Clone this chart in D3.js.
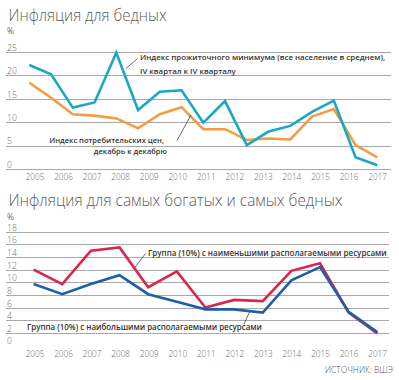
<!DOCTYPE html>
<html><head><meta charset="utf-8">
<script src="https://cdn.jsdelivr.net/npm/d3@7/dist/d3.min.js"></script>
<style>
html,body{margin:0;padding:0;background:#fff;}
svg{display:block;font-family:"Open Sans","Noto Sans",sans-serif;}
</style></head>
<body>
<script>
// ---- data ----
const years = ["2005","2006","2007","2008","2009","2010","2011","2012","2013","2014","2015","2016","2017"];
const topTicks = [0,5,10,15,20,25];
const bottomTicks = [0,2,4,6,8,10,12,14,16,18];
// top chart: 17 observations spread across 2005-2017
const subsistence = [22.3,20.3,13.2,14.3,24.9,12.7,16.6,16.9,10.0,14.6,5.2,8.1,9.3,12.3,14.7,2.6,0.9];
const cpi = [18.5,15.3,11.8,11.5,10.9,8.8,11.8,13.3,8.6,8.6,6.3,6.6,6.4,11.3,12.9,5.2,2.6];
// bottom chart: yearly
const poorest = [12.1,9.8,15.1,15.6,9.3,11.8,6.1,7.3,7.1,11.9,13.1,5.3,2.0];
const richest = [9.8,8.2,9.8,11.2,8.2,7.0,5.8,5.8,5.3,10.4,12.5,5.4,2.2];

const titleTop = "Инфляция для бедных";
const titleBottom = "Инфляция для самых богатых и самых бедных";
const noteSubs = ["Индекс прожиточного минимума (все население в среднем),","IV квартал к IV кварталу"];
const noteCpi = ["Индекс потребительских цен,","декабрь к декабрю"];
const notePoor = "Группа  (10%) с наименьшими располагаемыми ресурсами";
const noteRich = "Группа (10%) с наибольшими располагаемыми ресурсами";
const source = "ИСТОЧНИК: ВШЭ";

const C = {cyan:"#1ba7c6", orange:"#f39c45", red:"#d9274b", blue:"#1f5ea8", grid:"#a8a8a8", tick:"#6a6a6a", title:"#5a5a5a", note:"#333"};

const W = 399, H = 380;
const svg = d3.select("body").append("svg").attr("width",W).attr("height",H);

function fit(sel, width){
  const w = sel.node().getComputedTextLength();
  const fs = parseFloat(sel.attr("font-size"));
  if (w>0) sel.attr("font-size", (fs*width/w).toFixed(2));
  return sel;
}
function squeeze(sel, width){
  sel.attr("textLength", width).attr("lengthAdjust","spacingAndGlyphs");
  return sel;
}

const gridX0 = 6, gridX1 = 391;
const xYears = d3.scalePoint().domain(years).range([35,377.6]);

// ---------- TOP CHART ----------
const yTop = d3.scaleLinear().domain([0,25]).range([169.5,52.3]);
const xTop = d3.scaleLinear().domain([0, subsistence.length-1]).range([29.3,377.3]);

squeeze(svg.append("text").attr("x",8.5).attr("y",21.3).attr("font-size",16.2).attr("font-weight",300)
  .attr("fill",C.title).text(titleTop), 158);
svg.append("text").attr("x",7).attr("y",34.3).attr("font-size",8.3).attr("fill",C.tick).text("%");

const gTop = svg.append("g");
gTop.selectAll("line.grid").data(topTicks).join("line")
  .attr("x1",gridX0).attr("x2",gridX1)
  .attr("y1",d=>yTop(d)).attr("y2",d=>yTop(d))
  .attr("stroke",C.grid).attr("stroke-width",1).attr("shape-rendering","crispEdges");
gTop.selectAll("text.yl").data(topTicks).join("text")
  .attr("x",7).attr("y",d=>yTop(d)-1.6).attr("font-size",8.6).attr("font-weight",300)
  .attr("fill",C.tick).text(d=>d);
gTop.selectAll("text.xl").data(years).join("text")
  .attr("x",d=>xYears(d)).attr("y",179.5).attr("text-anchor","middle")
  .attr("font-size",8.2).attr("font-weight",300).attr("fill",C.tick).text(d=>d);

const lineTop = d3.line().x((d,i)=>xTop(i)).y(d=>yTop(d));
gTop.append("path").datum(cpi).attr("d",lineTop).attr("fill","none")
  .attr("stroke",C.orange).attr("stroke-width",2.6).attr("stroke-linejoin","miter");
gTop.append("path").datum(subsistence).attr("d",lineTop).attr("fill","none")
  .attr("stroke",C.cyan).attr("stroke-width",2.6).attr("stroke-linejoin","miter");

// annotations top
gTop.append("line").attr("x1",126).attr("y1",68.5).attr("x2",137.5).attr("y2",58.5)
  .attr("stroke","#444").attr("stroke-width",0.8);
const ns1 = gTop.append("text").attr("x",140).attr("y",60).attr("font-size",9).attr("font-weight",600)
  .attr("fill",C.note).text(noteSubs[0]);
fit(ns1, 245.5);
gTop.append("text").attr("x",140).attr("y",74).attr("font-size",ns1.attr("font-size")).attr("font-weight",600)
  .attr("fill",C.note).text(noteSubs[1]);

gTop.append("line").attr("x1",177).attr("y1",140.5).attr("x2",191).attr("y2",115)
  .attr("stroke","#444").attr("stroke-width",0.8);
const nc1 = gTop.append("text").attr("x",164).attr("y",142.5).attr("text-anchor","end").attr("font-size",9)
  .attr("font-weight",600).attr("fill",C.note).text(noteCpi[0]);
fit(nc1, 115);
gTop.append("text").attr("x",167).attr("y",154).attr("text-anchor","end").attr("font-size",nc1.attr("font-size"))
  .attr("font-weight",600).attr("fill",C.note).text(noteCpi[1]);

// ---------- BOTTOM CHART ----------
const yBot = d3.scaleLinear().domain([0,18]).range([346,232.3]);
const xBot = d3.scalePoint().domain(years).range([33.6,377.3]);

squeeze(svg.append("text").attr("x",8.5).attr("y",205.6).attr("font-size",16.2).attr("font-weight",300)
  .attr("fill",C.title).text(titleBottom), 334);
svg.append("text").attr("x",7).attr("y",219.6).attr("font-size",8.3).attr("fill",C.tick).text("%");

const gBot = svg.append("g");
gBot.selectAll("line.grid").data(bottomTicks.filter(d=>d>0)).join("line")
  .attr("x1",gridX0).attr("x2",gridX1-2)
  .attr("y1",d=>yBot(d)).attr("y2",d=>yBot(d))
  .attr("stroke",C.grid).attr("stroke-width",1).attr("shape-rendering","crispEdges");
gBot.selectAll("text.yl").data(bottomTicks).join("text")
  .attr("x",7).attr("y",d=>yBot(d)-1.6).attr("font-size",8.6).attr("font-weight",300)
  .attr("fill",C.tick).text(d=>d);
gBot.selectAll("text.xl").data(years).join("text")
  .attr("x",d=>xYears(d)).attr("y",356.5).attr("text-anchor","middle")
  .attr("font-size",8.2).attr("font-weight",300).attr("fill",C.tick).text(d=>d);

const lineBot = d3.line().x((d,i)=>xBot(years[i])).y(d=>yBot(d));
gBot.append("path").datum(poorest).attr("d",lineBot).attr("fill","none")
  .attr("stroke",C.red).attr("stroke-width",2.6);
gBot.append("path").datum(richest).attr("d",lineBot).attr("fill","none")
  .attr("stroke",C.blue).attr("stroke-width",2.6);

gBot.append("line").attr("x1",134.5).attr("y1",268).attr("x2",145.5).attr("y2",253.5)
  .attr("stroke","#444").attr("stroke-width",0.8);
fit(gBot.append("text").attr("x",148).attr("y",255.5).attr("font-size",9).attr("font-weight",600)
  .attr("fill",C.note).text(notePoor), 239);

gBot.append("line").attr("x1",244).attr("y1",324).attr("x2",249.5).attr("y2",312)
  .attr("stroke","#444").attr("stroke-width",0.8);
fit(gBot.append("text").attr("x",27).attr("y",330).attr("font-size",9).attr("font-weight",600)
  .attr("fill",C.note).text(noteRich), 235);

squeeze(svg.append("text").attr("x",393).attr("y",373).attr("text-anchor","end").attr("font-size",9.2)
  .attr("fill","#555").attr("font-weight",300).text(source), 68);
</script>
</body></html>
